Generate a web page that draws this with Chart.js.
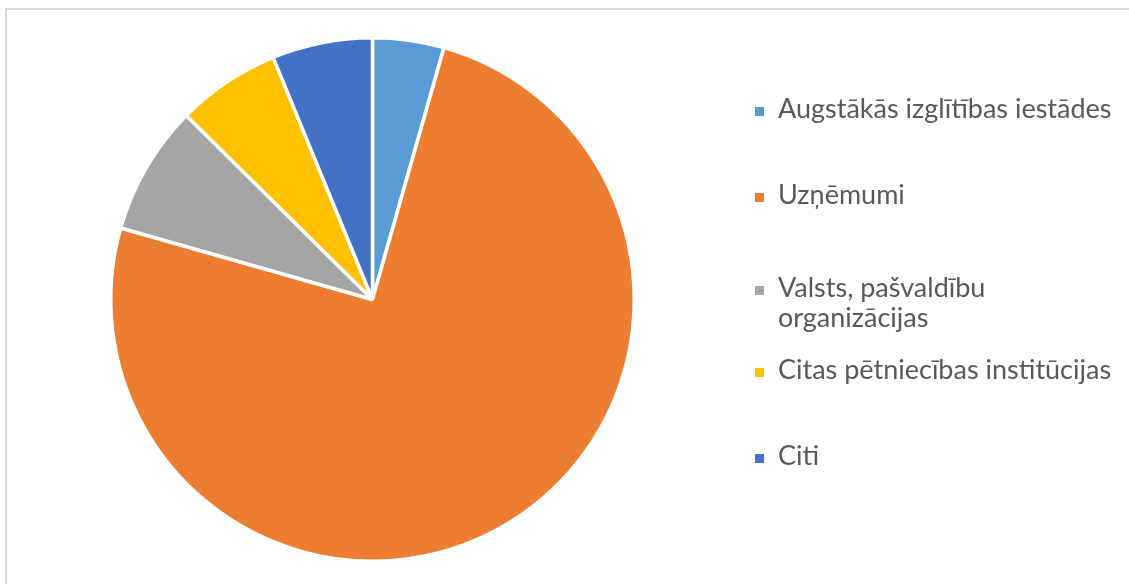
<!DOCTYPE html>
<html>
<head>
<meta charset="utf-8">
<script src="https://cdn.jsdelivr.net/npm/chart.js@4"></script>
<style>
  html, body { margin: 0; padding: 0; background: #fff; overflow: hidden; }
  #wrap { position: relative; width: 1129px; height: 584px; }
  #frame { position: absolute; left: 5px; top: 8px; width: 1200px; height: 700px; border: 2px solid #d9d9d9; box-sizing: border-box; }
  canvas { position: absolute; left: 0; top: 0; }
</style>
</head>
<body>
<div id="wrap">
  <div id="frame"></div>
  <canvas id="c" width="1129" height="584"></canvas>
</div>
<script>
const categories = [
  'Augstākās izglītības iestādes',
  'Uzņēmumi',
  ['Valsts, pašvaldību', 'organizācijas'],
  'Citas pētniecības institūcijas',
  'Citi'
]
const shares = [4.4, 75.0, 8.0, 6.4, 6.2]
const colors = ['#5b9bd5', '#ed7d31', '#a5a5a5', '#ffc000', '#4472c4']

// legend rows, baselines
const legendLayout = {
  x: 755,
  textX: 778,
  box: 9,
  lineGap: 30,
  baselines: [118, 204, 297, 379, 465],
  font: '27px Lato',
  color: '#595959'
}

const sideLegend = {
  id: 'sideLegend',
  afterDraw (chart) {
    const ctx = chart.ctx
    const L = legendLayout
    ctx.save()
    ctx.font = L.font
    ctx.textBaseline = 'alphabetic'
    chart.data.labels.forEach((lab, i) => {
      const y = L.baselines[i]
      ctx.fillStyle = chart.data.datasets[0].backgroundColor[i]
      ctx.fillRect(L.x, y - 11, L.box, L.box)
      ctx.fillStyle = L.color
      const lines = Array.isArray(lab) ? lab : [lab]
      lines.forEach((t, j) => ctx.fillText(t, L.textX, y + j * L.lineGap))
    })
    ctx.restore()
  }
}

new Chart(document.getElementById('c').getContext('2d'), {
  type: 'pie',
  data: {
    labels: categories,
    datasets: [{
      data: shares,
      backgroundColor: colors,
      borderColor: '#ffffff',
      borderWidth: 3.5
    }]
  },
  options: {
    responsive: false,
    animation: false,
    layout: {
      padding: { left: 109, right: 493, top: 36, bottom: 21 }
    },
    plugins: {
      legend: { display: false },
      tooltip: { enabled: false }
    }
  },
  plugins: [sideLegend]
})
</script>
</body>
</html>
